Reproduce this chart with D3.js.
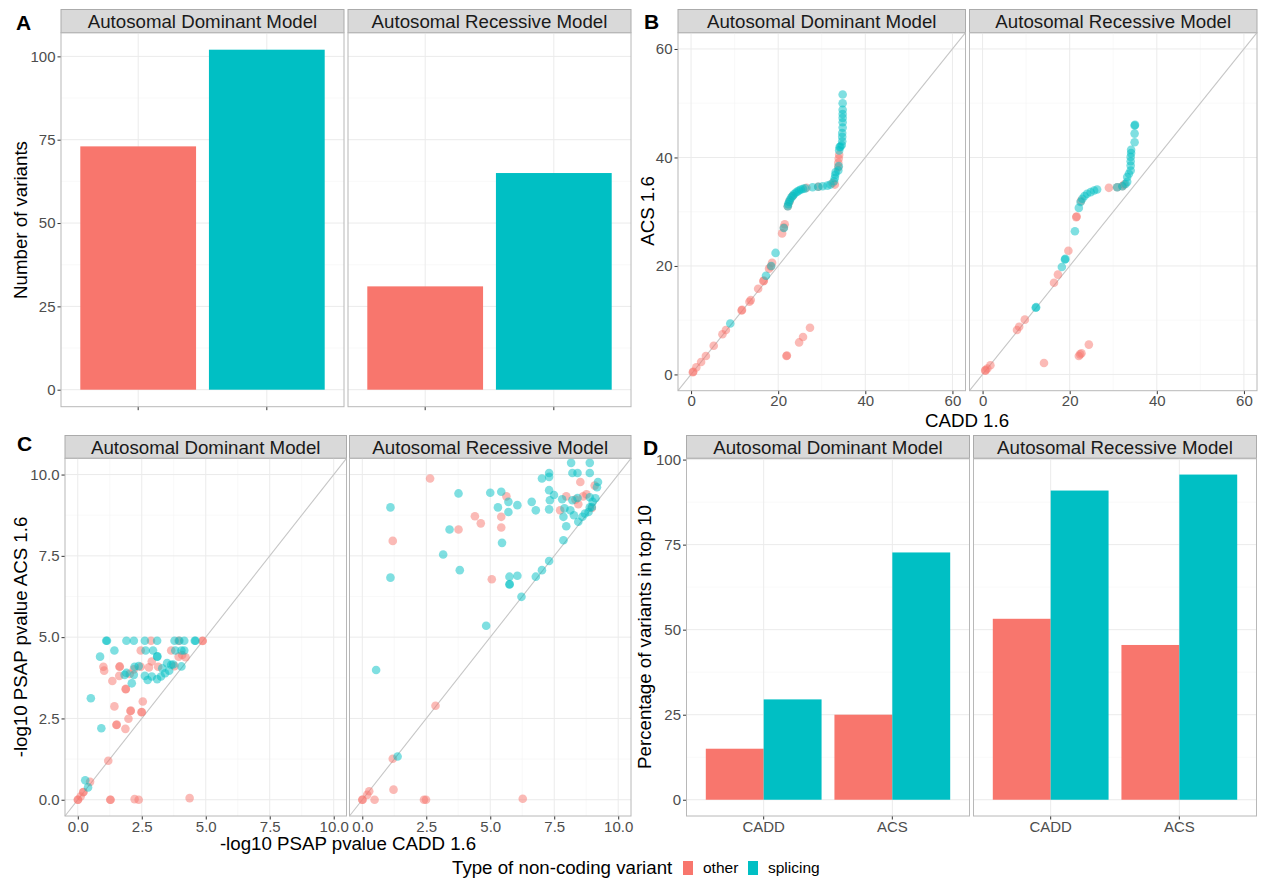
<!DOCTYPE html>
<html>
<head>
<meta charset="utf-8">
<script src="https://cdn.jsdelivr.net/npm/d3@7"></script>
<style>
  body { margin: 0; background: #fff; }
</style>
</head>
<body>
<div id="chart"></div>
<script>
// ---- data ----
const models = ["Autosomal Dominant Model", "Autosomal Recessive Model"];
const types = ["other", "splicing"];
const methods = ["CADD", "ACS"];

// A: number of variants, [model][type]
const variantCount = [[73, 102], [31, 65]];

// B: [CADD 1.6, ACS 1.6] per variant
const scoreDomOther = [[0.4,0.4],[0.5,0.5],[1.2,1.3],[2.3,2.3],[3.4,3.4],[5.2,5.3],[7.2,7.4],[8.0,8.2],[11.6,11.8],[11.7,11.9],
  [13.4,13.4],[13.7,13.7],[15.4,15.8],[16.6,17.2],[16.7,17.3],[17.9,19.5],[18.3,19.9],[18.6,20.6],[20.9,26.0],[21.3,27.1],
  [21.5,27.7],[22.2,31.0],[22.6,31.9],[23.3,32.9],[26.5,34.4],[29.2,34.6],[32.5,35.3],[33.0,35.0],[33.8,38.2],[33.8,39.0],
  [33.9,39.8],[34.0,40.5],[21.9,3.4],[22.0,3.5],[24.8,5.9],[25.7,6.9],[27.3,8.6]];
const scoreDomSplicing = [[9.0,9.4],[17.2,18.2],[18.4,20.0],[19.4,22.4],[21.3,27.0],[22.2,31.0],[22.3,31.4],[22.5,31.8],[22.7,32.2],
  [23.0,32.6],[23.3,32.9],[23.6,33.2],[24.0,33.5],[24.4,33.7],[24.8,33.9],[25.2,34.1],[25.7,34.2],[26.2,34.3],[27.9,34.5],
  [29.2,34.6],[30.2,34.7],[31.3,34.8],[32.0,35.0],[32.8,35.6],[33.0,36.2],[33.1,36.8],[33.2,37.3],[33.8,37.6],[33.9,38.4],
  [34.0,41.3],[34.1,41.9],[34.3,42.0],[34.6,42.3],[34.7,43.0],[34.7,43.8],[34.7,44.5],[34.8,45.5],[34.8,46.5],[34.8,47.3],
  [34.8,48.0],[34.8,48.8],[34.8,50.0],[34.8,51.6]];
const scoreRecOther = [[0.6,0.7],[0.7,0.8],[1.1,1.1],[1.8,1.7],[7.9,8.2],[8.4,8.8],[9.7,10.1],[14.1,2.1],[16.4,16.9],[17.3,18.4],
  [19.7,22.8],[21.5,29.0],[21.6,29.1],[22.6,32.0],[29.0,34.4],[30.9,34.5],[32.1,34.7],[32.5,35.0],[22.1,3.4],[22.4,3.7],
  [22.7,3.9],[24.4,5.5]];
const scoreRecSplicing = [[12.2,12.3],[12.3,12.4],[18.2,19.8],[18.9,21.2],[19.0,21.3],[21.2,26.4],[22.1,30.7],[22.5,31.8],[22.9,32.4],
  [23.4,32.9],[24.0,33.3],[24.8,33.6],[25.6,33.9],[26.3,34.1],[30.9,34.5],[32.1,34.7],[32.8,35.1],[33.2,35.5],[33.2,36.4],
  [33.6,37.0],[34.0,37.6],[34.0,38.5],[34.0,39.3],[34.0,40.1],[34.1,40.8],[34.1,41.4],[34.9,42.8],[34.9,44.4],[34.9,45.9],[35.0,46.0]];

// C: [-log10 PSAP p CADD, -log10 PSAP p ACS]
const psapDomOther = [[1.0,4.09],[1.03,3.97],[1.35,3.65],[1.63,4.09],[1.64,4.10],[1.62,3.81],[2.03,3.87],[2.19,4.01],[2.46,4.09],
  [2.78,4.07],[2.89,4.25],[3.14,4.09],[2.46,4.59],[2.86,4.89],[3.65,4.59],[3.94,4.89],[3.94,4.40],[4.08,4.45],[4.21,4.38],
  [4.87,4.88],[4.88,4.89],[3.78,4.11],[1.43,2.87],[1.51,2.30],[1.52,2.31],[1.86,2.18],[1.98,2.49],[2.06,2.73],[2.07,2.74],
  [2.49,2.69],[2.50,2.70],[2.54,3.02],[1.87,3.40],[1.88,3.41],[1.19,1.20],[0.48,0.55],[0.21,0.23],[0.22,0.24],[0.11,0.10],
  [0.0,0.0],[0.01,0.0],[1.27,0.0],[1.28,0.0],[2.22,0.02],[2.38,0.0],[4.37,0.05]];
const psapDomSplicing = [[1.11,4.89],[1.14,4.89],[1.90,4.89],[2.19,4.89],[2.62,4.89],[3.10,4.89],[3.78,4.89],[3.97,4.89],[4.16,4.89],
  [4.57,4.89],[4.60,4.89],[1.43,4.59],[2.65,4.59],[2.94,4.59],[3.81,4.59],[4.05,4.59],[4.16,4.59],[0.87,4.40],[3.10,4.40],
  [3.11,4.41],[3.49,4.20],[4.05,4.10],[3.73,4.16],[0.51,3.12],[0.92,2.20],[2.22,4.09],[2.19,3.84],[1.83,3.84],[1.90,3.90],
  [2.11,3.58],[2.62,3.81],[2.73,3.68],[2.89,3.79],[3.10,3.71],[3.25,3.79],[3.41,3.89],[3.30,4.04],[3.57,3.97],[3.65,4.15],
  [2.38,4.11],[0.29,0.60],[0.40,0.38]];
const psapRecOther = [[0.0,0.0],[0.01,0.0],[0.27,0.26],[0.19,0.15],[0.48,0.0],[1.22,0.31],[1.19,1.26],[2.41,0.0],[2.49,0.0],
  [2.86,2.89],[6.27,0.03],[2.65,9.88],[1.19,7.96],[3.76,8.31],[4.40,8.72],[4.63,8.50],[5.06,6.78],[5.43,8.70],[5.43,8.37],
  [5.63,9.33],[7.73,8.90],[7.97,9.33],[8.44,9.09],[8.52,9.77],[8.76,9.39],[9.08,9.66],[8.33,9.23],[8.97,8.97],[8.63,9.33]];
const psapRecSplicing = [[1.38,1.33],[0.54,3.99],[1.10,6.83],[1.10,8.99],[3.16,7.54],[3.41,8.31],[3.81,7.06],[3.76,9.42],[4.84,5.35],
  [5.0,9.44],[5.30,8.99],[5.43,9.47],[5.46,7.90],[5.71,8.85],[5.71,9.16],[5.75,6.86],[5.75,6.62],[5.76,6.63],[6.06,6.89],
  [6.06,9.06],[6.22,6.24],[6.62,9.16],[6.78,8.90],[6.78,6.86],[7.02,7.06],[7.02,9.88],[7.30,9.93],[7.30,10.05],[7.30,9.52],
  [7.33,9.21],[7.30,8.93],[7.30,7.34],[7.49,9.37],[7.86,7.98],[7.97,8.41],[7.86,8.70],[7.90,8.96],[7.81,9.24],[8.16,10.36],
  [8.21,10.05],[8.41,10.05],[8.13,8.90],[8.21,9.21],[8.41,9.28],[8.44,8.55],[8.27,8.75],[8.60,8.70],[8.84,8.85],[8.89,10.36],
  [8.89,10.05],[8.89,9.30],[8.89,8.99],[9.0,9.16],[9.17,9.61],[9.21,9.77],[9.11,9.27],[8.97,9.0],[8.70,8.80]];

// D: percentage of variants in top 10, [method][type]
const top10Dominant = [[15.0, 29.5], [25.0, 72.7]];
const top10Recessive = [[53.2, 90.9], [45.5, 95.6]];

const ticksA = [0, 25, 50, 75, 100];
const ticksB = [0, 20, 40, 60];
const ticksC = [0, 2.5, 5, 7.5, 10];
const ticksD = [0, 25, 50, 75, 100];

// ---- style ----
const colors = { other: "#F8766D", splicing: "#00BFC4" };
const font = '"Liberation Sans", Arial, Helvetica, sans-serif';
const gridMajor = "#EBEBEB", gridMinor = "#F5F5F5";
const borderCol = "#B8B8B8", stripFill = "#D9D9D9", stripStroke = "#ABABAB";
const tickCol = "#4D4D4D";
const dotR = 4.3;

const svg = d3.select("#chart").append("svg")
  .attr("width", 1262)
  .attr("height", 884)
  .style("font-family", font);

const mids = t => d3.pairs(t).map(p => (p[0] + p[1]) / 2);

// draws one facet panel (strip, grid, axes), returns the group
function drawPanel(o) {
  const g = svg.append("g").attr("transform", `translate(${o.left},${o.top})`);
  const w = o.width, h = o.height;

  // strip
  g.append("rect")
    .attr("x", 0).attr("y", -o.stripH)
    .attr("width", w).attr("height", o.stripH)
    .attr("fill", stripFill).attr("stroke", stripStroke).attr("stroke-width", 1);
  g.append("text")
    .attr("x", w / 2).attr("y", -o.stripH / 2)
    .attr("dy", "0.36em")
    .attr("text-anchor", "middle")
    .style("font-size", "18.7px")
    .style("fill", "#1A1A1A")
    .text(o.title);

  // grid
  const grid = g.append("g");
  (o.yMinor || []).forEach(v => grid.append("line")
    .attr("x1", 0).attr("x2", w).attr("y1", o.y(v)).attr("y2", o.y(v))
    .attr("stroke", gridMinor).attr("stroke-width", 0.6));
  (o.xMinor || []).forEach(v => grid.append("line")
    .attr("y1", 0).attr("y2", h).attr("x1", o.xPos(v)).attr("x2", o.xPos(v))
    .attr("stroke", gridMinor).attr("stroke-width", 0.6));
  o.yTicks.forEach(v => grid.append("line")
    .attr("x1", 0).attr("x2", w).attr("y1", o.y(v)).attr("y2", o.y(v))
    .attr("stroke", gridMajor).attr("stroke-width", 1));
  o.xTicks.forEach(v => grid.append("line")
    .attr("y1", 0).attr("y2", h).attr("x1", o.xPos(v)).attr("x2", o.xPos(v))
    .attr("stroke", gridMajor).attr("stroke-width", 1));

  // y axis (left panel only)
  if (o.yAxis) {
    const ya = g.append("g")
      .call(d3.axisLeft(o.y).tickValues(o.yTicks).tickSize(3.5).tickPadding(2).tickFormat(o.yFormat || (d => d)));
    ya.select(".domain").remove();
    ya.selectAll("line").attr("stroke", "#333");
    ya.selectAll("text").style("font-size", "15px").style("fill", tickCol).style("font-family", font);
  }
  // x axis
  const xa = g.append("g").attr("transform", `translate(0,${h})`)
    .call(d3.axisBottom(o.xAxisScale).tickValues(o.xTicks).tickSize(3.5).tickPadding(o.xPad || 2).tickFormat(o.xFormat || (d => d)));
  xa.select(".domain").remove();
  xa.selectAll("line").attr("stroke", "#333");
  xa.selectAll("text").style("font-size", "15px").style("fill", tickCol).style("font-family", font)
    .style("display", o.xLabels ? null : "none");

  g.data_layer = g.append("g");
  g.append("rect").attr("width", w).attr("height", h)
    .attr("fill", "none").attr("stroke", borderCol).attr("stroke-width", 1);
  return g;
}

function panelLabel(txt, x, y) {
  svg.append("text").attr("x", x).attr("y", y)
    .style("font-size", "21px").style("font-weight", "bold").text(txt);
}
function axisTitle(txt, x, y, rotate) {
  svg.append("text")
    .attr("transform", `translate(${x},${y})` + (rotate ? " rotate(-90)" : ""))
    .attr("text-anchor", "middle")
    .style("font-size", "18.7px")
    .text(txt);
}

// ---- A: number of variants ----
{
  const lefts = [61, 348], w = 283, top = 32.7, h = 374;
  const x = d3.scaleBand().domain(types).range([0, w]).paddingInner(0.1).paddingOuter(0.15);
  const y = d3.scaleLinear().domain([-5.1, 107.1]).range([h, 0]);
  models.forEach((m, mi) => {
    const g = drawPanel({
      left: lefts[mi], top: top, width: w, height: h, stripH: 23.2, title: m,
      y: y, yTicks: ticksA, yMinor: mids(ticksA), yAxis: mi === 0,
      xAxisScale: x, xPos: t => x(t) + x.bandwidth() / 2, xTicks: types, xLabels: false
    });
    g.data_layer.selectAll("rect").data(types).join("rect")
      .attr("x", t => x(t))
      .attr("width", x.bandwidth())
      .attr("y", (t, i) => y(variantCount[mi][i]))
      .attr("height", (t, i) => y(0) - y(variantCount[mi][i]))
      .attr("fill", t => colors[t]);
  });
  panelLabel("A", 16, 30);
  axisTitle("Number of variants", 27, 220, true);
}

// ---- B: ACS vs CADD scores ----
{
  const lefts = [678, 969.5], w = 287.5, top = 32.7, h = 358;
  const x = d3.scaleLinear().domain([-3, 63]).range([0, w]);
  const y = d3.scaleLinear().domain([-3, 63]).range([h, 0]);
  const sets = [[scoreDomOther, scoreDomSplicing], [scoreRecOther, scoreRecSplicing]];
  models.forEach((m, mi) => {
    const g = drawPanel({
      left: lefts[mi], top: top, width: w, height: h, stripH: 23.2, title: m,
      y: y, yTicks: ticksB, yMinor: mids(ticksB), yAxis: mi === 0,
      xAxisScale: x, xPos: x, xTicks: ticksB, xMinor: mids(ticksB), xLabels: true, xPad: 1.5
    });
    g.data_layer.append("line")
      .attr("x1", x(-3)).attr("y1", y(-3)).attr("x2", x(63)).attr("y2", y(63))
      .attr("stroke", "#C6C6C6").attr("stroke-width", 1.1);
    types.forEach((t, ti) => {
      g.data_layer.append("g").selectAll("circle").data(sets[mi][ti]).join("circle")
        .attr("cx", d => x(d[0])).attr("cy", d => y(d[1])).attr("r", dotR)
        .attr("fill", colors[t]).attr("fill-opacity", 0.5);
    });
  });
  panelLabel("B", 644, 29);
  axisTitle("ACS 1.6", 654, 211, true);
  axisTitle("CADD 1.6", 967, 427, false);
}

// ---- C: PSAP p-values ----
{
  const lefts = [65, 349.5], w = 281.5, top = 458.3, h = 357.7;
  const x = d3.scaleLinear().domain([-0.5, 10.5]).range([0, w]);
  const y = d3.scaleLinear().domain([-0.5, 10.5]).range([h, 0]);
  const sets = [[psapDomOther, psapDomSplicing], [psapRecOther, psapRecSplicing]];
  models.forEach((m, mi) => {
    const g = drawPanel({
      left: lefts[mi], top: top, width: w, height: h, stripH: 22.8, title: m,
      y: y, yTicks: ticksC, yMinor: mids(ticksC), yAxis: mi === 0, yFormat: d3.format(".1f"),
      xAxisScale: x, xPos: x, xTicks: ticksC, xMinor: mids(ticksC), xLabels: true, xFormat: d3.format(".1f")
    });
    g.data_layer.append("line")
      .attr("x1", x(-0.5)).attr("y1", y(-0.5)).attr("x2", x(10.5)).attr("y2", y(10.5))
      .attr("stroke", "#C6C6C6").attr("stroke-width", 1.1);
    types.forEach((t, ti) => {
      g.data_layer.append("g").selectAll("circle").data(sets[mi][ti]).join("circle")
        .attr("cx", d => x(d[0])).attr("cy", d => y(d[1])).attr("r", dotR)
        .attr("fill", colors[t]).attr("fill-opacity", 0.5);
    });
  });
  panelLabel("C", 17, 451);
  axisTitle("-log10 PSAP pvalue ACS 1.6", 27, 637, true);
  axisTitle("-log10 PSAP pvalue CADD 1.6", 348, 850, false);
}

// ---- D: percentage in top 10 ----
{
  const lefts = [686.5, 973.5], w = 283, top = 458.3, h = 357.7;
  const x = d3.scaleBand().domain(methods).range([0, w]).paddingInner(0.1).paddingOuter(0.15);
  const xt = d3.scaleBand().domain(types).range([0, x.bandwidth()]);
  const y = d3.scaleLinear().domain([-4.78, 100.38]).range([h, 0]);
  const sets = [top10Dominant, top10Recessive];
  models.forEach((m, mi) => {
    const g = drawPanel({
      left: lefts[mi], top: top, width: w, height: h, stripH: 22.8, title: m,
      y: y, yTicks: ticksD, yMinor: mids(ticksD), yAxis: mi === 0,
      xAxisScale: x, xPos: c => x(c) + x.bandwidth() / 2, xTicks: methods, xLabels: true
    });
    methods.forEach((c, ci) => {
      g.data_layer.append("g").attr("transform", `translate(${x(c)},0)`)
        .selectAll("rect").data(types).join("rect")
        .attr("x", t => xt(t)).attr("width", xt.bandwidth())
        .attr("y", (t, ti) => y(sets[mi][ci][ti]))
        .attr("height", (t, ti) => y(0) - y(sets[mi][ci][ti]))
        .attr("fill", t => colors[t]);
    });
  });
  panelLabel("D", 643, 455);
  axisTitle("Percentage of variants in top 10", 651, 637, true);
}

// ---- legend ----
{
  const lg = svg.append("g");
  lg.append("text").attr("x", 452).attr("y", 874).style("font-size", "18.7px")
    .text("Type of non-coding variant");
  const keyX = d3.scaleOrdinal().domain(types).range([683, 748]);
  types.forEach(t => {
    lg.append("rect").attr("x", keyX(t)).attr("y", 861).attr("width", 10).attr("height", 14)
      .attr("fill", colors[t]);
    lg.append("text").attr("x", keyX(t) + 20).attr("y", 873).style("font-size", "15.5px")
      .text(t);
  });
}
</script>
</body>
</html>
